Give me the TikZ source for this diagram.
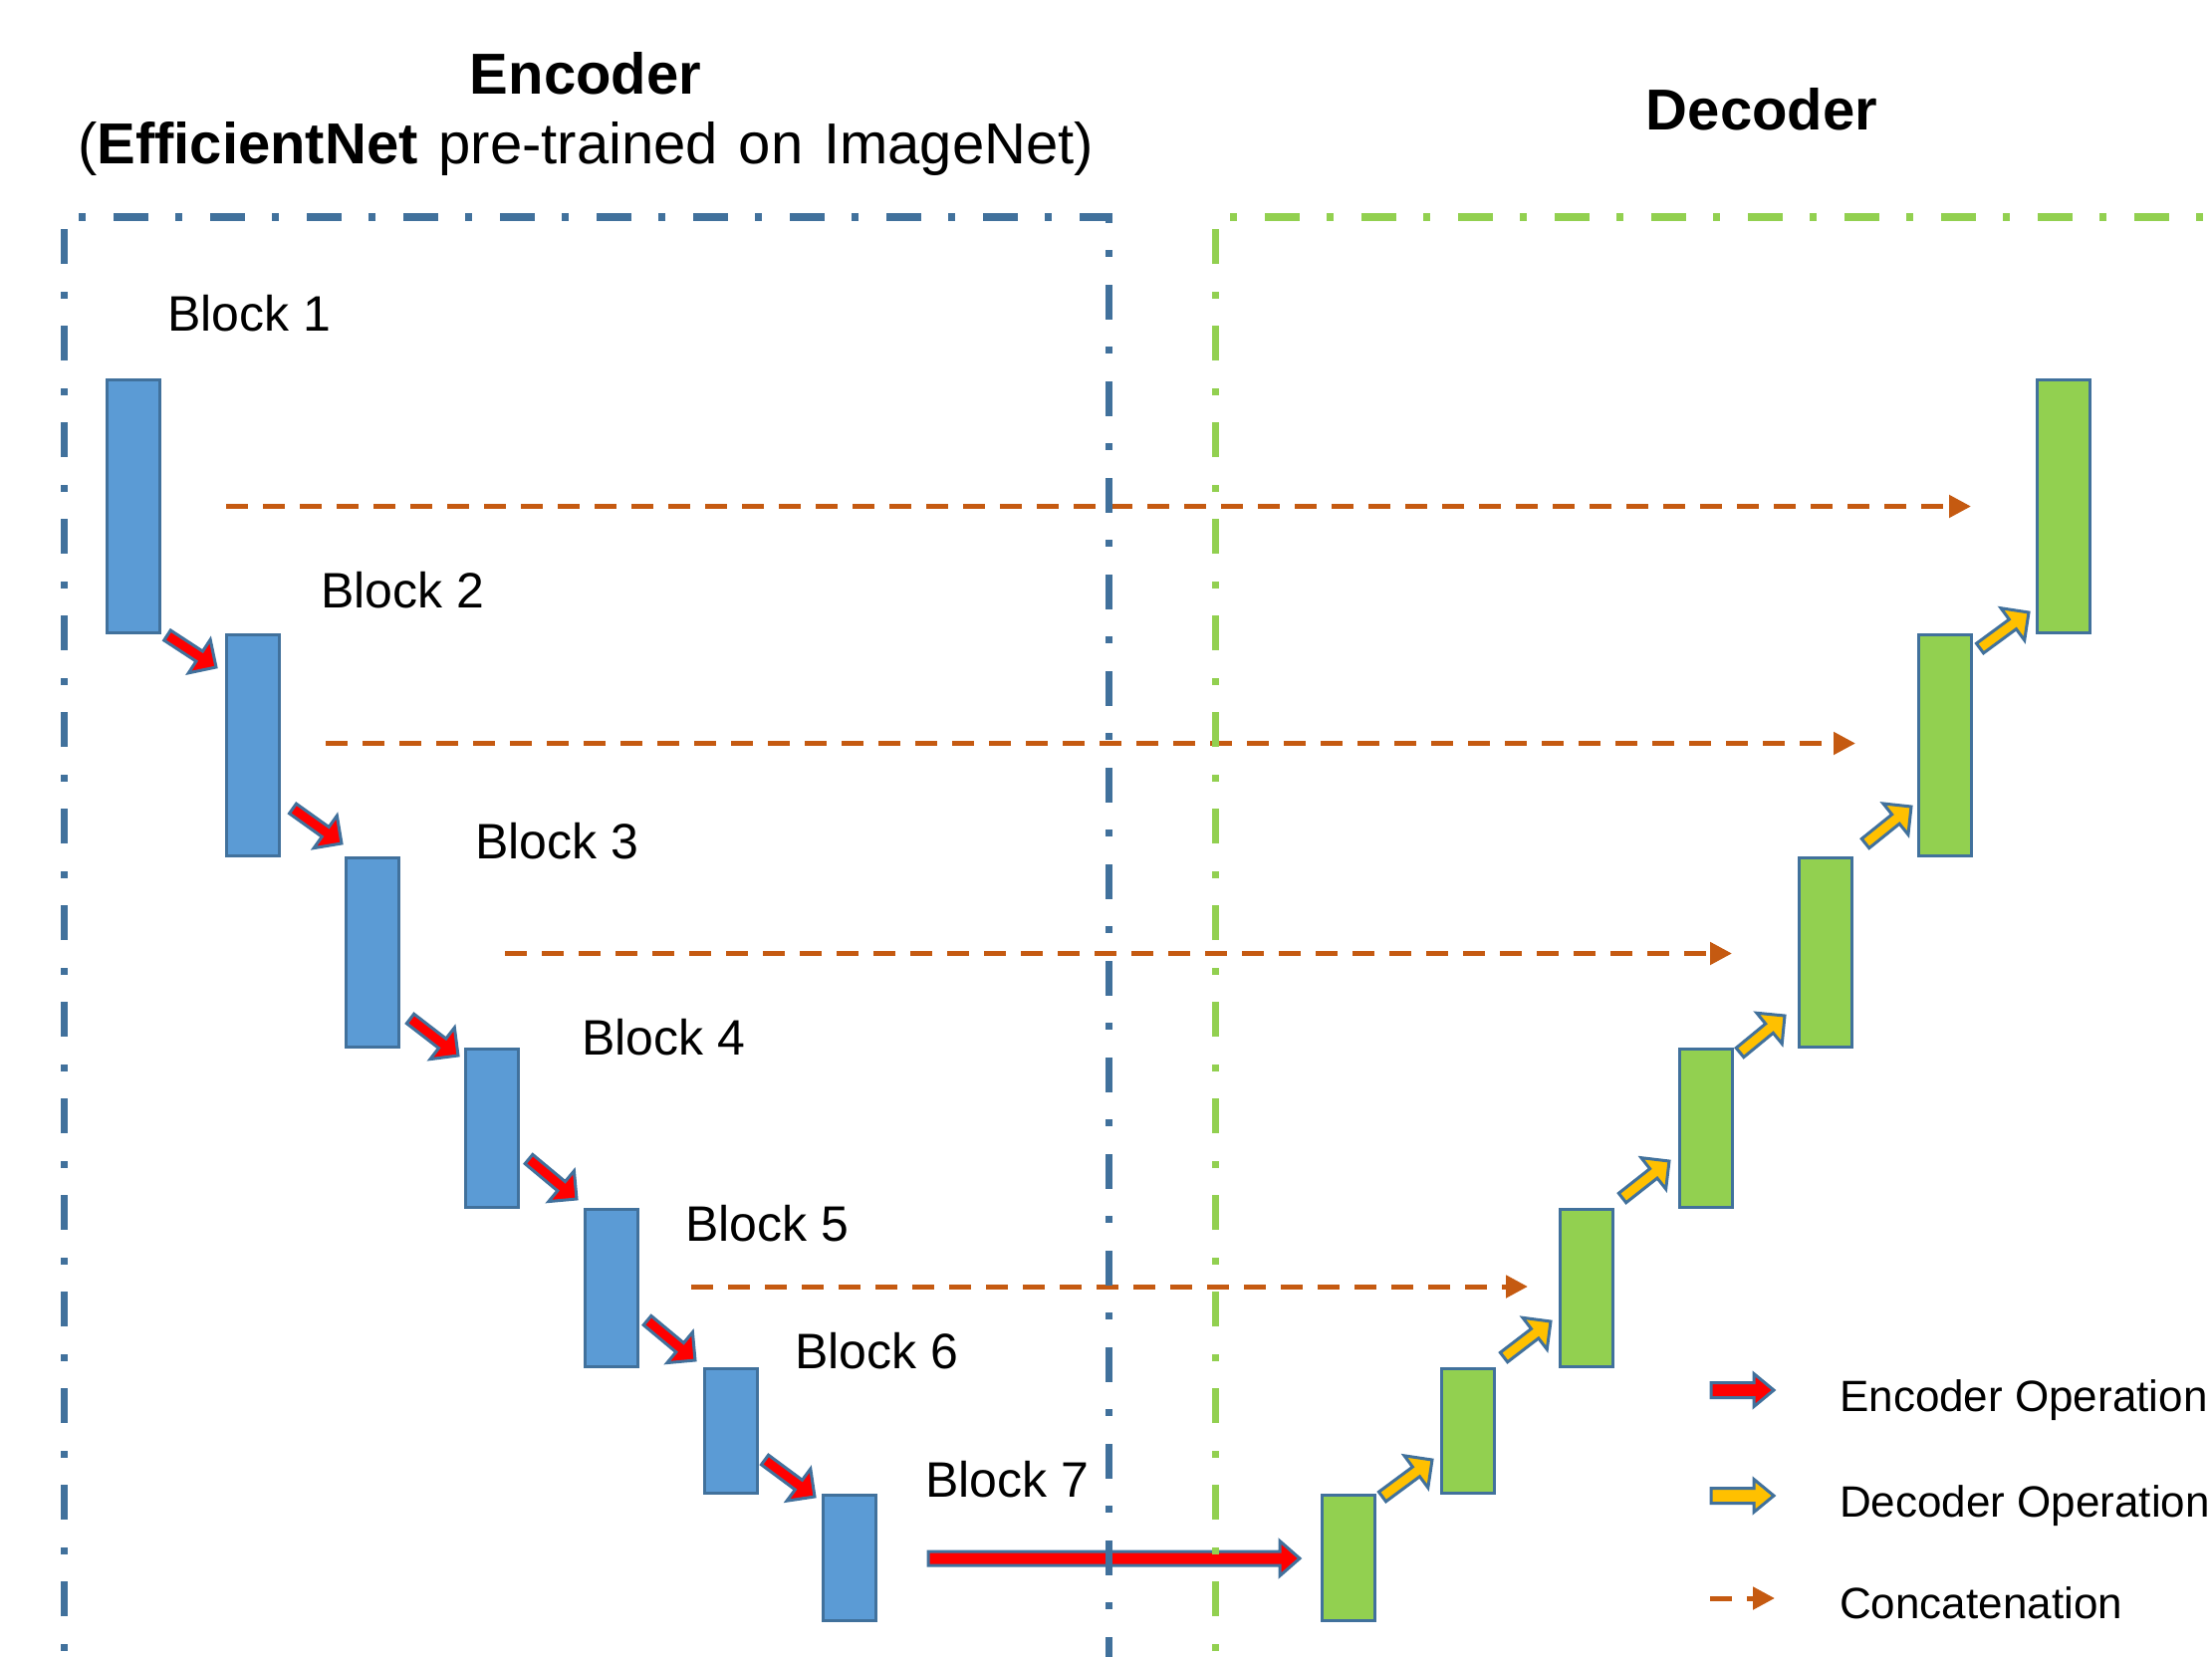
\documentclass[tikz,border=0pt]{standalone}
\usepackage{fontspec}
\setmainfont{Liberation Sans}
\usetikzlibrary{arrows.meta,calc}
\definecolor{encblue}{HTML}{41719C}
\definecolor{blockblue}{HTML}{5B9BD5}
\definecolor{decgreen}{HTML}{92D050}
\definecolor{concatorange}{HTML}{C55A11}
\definecolor{encred}{HTML}{FF0000}
\definecolor{decyellow}{HTML}{FFC000}
% block arrow: #1 tail, #2 tip, #3 fill, #4 shaft half width, #5 head half width
\newcommand\blkarrow[5]{%
  \draw[arrowborder, fill=#3] let \p1=($(#2)-(#1)$), \n1={atan2(\y1,\x1)}, \n2={veclen(\x1,\y1)} in
    [shift={(#1)}, rotate=\n1]
    (0,-#4) -- ({\n2-20},-#4) -- ({\n2-20},-#5) -- (\n2,0) -- ({\n2-20},#5) -- ({\n2-20},#4) -- (0,#4) -- cycle;}
\newcommand\wsp{\hskip 0.36em\relax}
\begin{document}
\begin{tikzpicture}[x=1pt,y=-1pt,
  titletext/.style={inner sep=0pt, font=\fontsize{58}{70}\selectfont},
  blocklabel/.style={inner sep=0pt, anchor=base west, font=\fontsize{50}{60}\selectfont},
  legendtext/.style={inner sep=0pt, anchor=base west, font=\fontsize{44}{53}\selectfont},
  bblock/.style={draw=encblue, fill=blockblue, line width=3pt, inner sep=0pt, outer sep=0pt, minimum width=53pt},
  gblock/.style={draw=encblue, fill=decgreen, line width=3pt, inner sep=0pt, outer sep=0pt, minimum width=53pt},
  arrowborder/.style={draw=encblue, line width=3pt, line join=miter},
  concat/.style={draw=concatorange, line width=5pt, dash pattern=on 22pt off 15pt, -{Triangle[length=22pt,width=22pt]}},
  encbox/.style={draw=encblue, line width=7pt, dash pattern=on 35pt off 27pt on 7pt off 28pt},
  decbox/.style={draw=decgreen, line width=7pt, dash pattern=on 35pt off 27pt on 7pt off 28pt}
]
\useasboundingbox (0,0) rectangle (2221,1664);
\fill[white] (0,0) rectangle (2221,1664);
\clip (0,0) rectangle (2221,1664);

% titles
\node[titletext, anchor=base] (enctitle) at (588,95) {\textbf{Encoder}};
\node[titletext, anchor=base] (enctitle2) at (588,165) {(\textbf{EfficientNet}\wsp pre-trained\wsp on\wsp ImageNet)};
\node[titletext, anchor=base] (dectitle) at (1769,131) {\textbf{Decoder}};

% encoder blocks
\node[bblock, minimum height=254pt] (b1) at (133.5,508) {};
\node[bblock, minimum height=222pt] (b2) at (253.5,748) {};
\node[bblock, minimum height=190pt] (b3) at (373.5,956) {};
\node[bblock, minimum height=159pt] (b4) at (493.5,1132.5) {};
\node[bblock, minimum height=158pt] (b5) at (613.5,1293) {};
\node[bblock, minimum height=125pt] (b6) at (733.5,1436.5) {};
\node[bblock, minimum height=126pt] (b7) at (852.5,1564) {};

% decoder blocks
\node[gblock, minimum height=126pt] (g7) at (1353.5,1564) {};
\node[gblock, minimum height=125pt] (g6) at (1473.5,1436.5) {};
\node[gblock, minimum height=158pt] (g5) at (1592.5,1293) {};
\node[gblock, minimum height=159pt] (g4) at (1712.5,1132.5) {};
\node[gblock, minimum height=190pt] (g3) at (1832.5,956) {};
\node[gblock, minimum height=222pt] (g2) at (1952.5,748) {};
\node[gblock, minimum height=254pt] (g1) at (2071.5,508) {};

% block labels
\node[blocklabel] (l1) at (168,332) {Block 1};
\node[blocklabel] (l2) at (322,610) {Block 2};
\node[blocklabel] (l3) at (477,862) {Block 3};
\node[blocklabel] (l4) at (584,1059) {Block 4};
\node[blocklabel] (l5) at (688,1246) {Block 5};
\node[blocklabel] (l6) at (798,1374) {Block 6};
\node[blocklabel] (l7) at (929,1503) {Block 7};

% concatenation arrows
\coordinate (c1s) at (227,508.5);  \coordinate (c1e) at (1979,508.5);
\coordinate (c2s) at (327,746.5);  \coordinate (c2e) at (1863,746.5);
\coordinate (c3s) at (507,957.5);  \coordinate (c3e) at (1739,957.5);
\coordinate (c4s) at (694,1292);   \coordinate (c4e) at (1534,1292);
\draw[concat] (c1s) -- (c1e);
\draw[concat] (c2s) -- (c2e);
\draw[concat] (c3s) -- (c3e);
\draw[concat] (c4s) -- (c4e);

% encoder operation arrows
\coordinate (r1s) at (168,638);  \coordinate (r1e) at (217,670);
\coordinate (r2s) at (294,812);  \coordinate (r2e) at (343,847);
\coordinate (r3s) at (412,1023); \coordinate (r3e) at (460,1060);
\coordinate (r4s) at (531,1164); \coordinate (r4e) at (579,1204);
\coordinate (r5s) at (650,1326); \coordinate (r5e) at (698,1366);
\coordinate (r6s) at (768,1466); \coordinate (r6e) at (818,1503);
\blkarrow{r1s}{r1e}{encred}{6}{20}
\blkarrow{r2s}{r2e}{encred}{6}{20}
\blkarrow{r3s}{r3e}{encred}{6}{20}
\blkarrow{r4s}{r4e}{encred}{6}{20}
\blkarrow{r5s}{r5e}{encred}{6}{20}
\blkarrow{r6s}{r6e}{encred}{6}{20}
\coordinate (bigs) at (932,1565); \coordinate (bige) at (1305,1565);
\blkarrow{bigs}{bige}{encred}{7}{17.5}

% decoder operation arrows
\coordinate (y1s) at (1388,1503); \coordinate (y1e) at (1438,1466);
\coordinate (y2s) at (1510,1363); \coordinate (y2e) at (1557,1327);
\coordinate (y3s) at (1629,1203); \coordinate (y3e) at (1676,1166);
\coordinate (y4s) at (1747,1057); \coordinate (y4e) at (1792,1020);
\coordinate (y5s) at (1873,847);  \coordinate (y5e) at (1919,810);
\coordinate (y6s) at (1988,651);  \coordinate (y6e) at (2037,615);
\blkarrow{y1s}{y1e}{decyellow}{6}{20}
\blkarrow{y2s}{y2e}{decyellow}{6}{20}
\blkarrow{y3s}{y3e}{decyellow}{6}{20}
\blkarrow{y4s}{y4e}{decyellow}{6}{20}
\blkarrow{y5s}{y5e}{decyellow}{6}{20}
\blkarrow{y6s}{y6e}{decyellow}{6}{20}

% dashed group boxes
\draw[encbox] (64,1720) -- (64,218) -- (1113,218) -- (1113,1720);
\draw[decbox] (1220,1720) -- (1220,218) -- (2300,218);

% legend
\coordinate (lgr1) at (1718,1396); \coordinate (lgr2) at (1781,1396);
\coordinate (lgy1) at (1718,1502); \coordinate (lgy2) at (1781,1502);
\coordinate (lgc1) at (1717,1605); \coordinate (lgc2) at (1782,1605);
\blkarrow{lgr1}{lgr2}{encred}{7.5}{16.5}
\blkarrow{lgy1}{lgy2}{decyellow}{7.5}{16.5}
\draw[concat] (lgc1) -- (lgc2);
\node[legendtext] (lt1) at (1847,1417) {Encoder Operation};
\node[legendtext] (lt2) at (1847,1523) {Decoder Operation};
\node[legendtext] (lt3) at (1847,1625) {Concatenation};
\end{tikzpicture}
\end{document}
